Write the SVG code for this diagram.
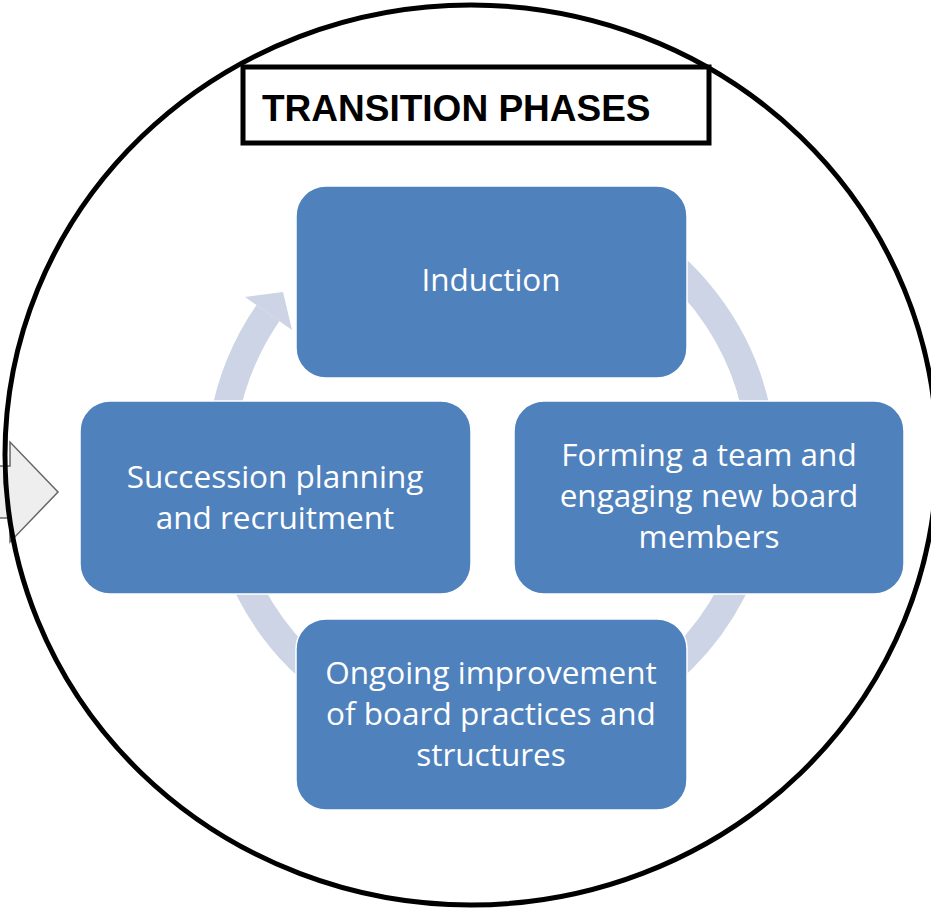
<svg xmlns="http://www.w3.org/2000/svg" width="931" height="908" viewBox="0 0 931 908">
  <style>
    .node { fill: #4F81BD; stroke: #ffffff; stroke-width: 1.5; }
    .label { fill: #ffffff; font-family: "Open Sans", "Noto Sans", sans-serif; font-size: 31.5px; text-anchor: middle; }
    .ring { fill: none; stroke: #CCD4E5; stroke-width: 28; }
    .title { font-family: "Liberation Sans", Arial, sans-serif; font-weight: bold; font-size: 37px; fill: #000000; }
  </style>

  <rect width="931" height="908" fill="#ffffff"/>

  <!-- entry arrow on the left edge -->
  <g id="entry-arrow">
    <polygon points="-5,466 10,466 10,442 58,492 10,542 10,518 -5,518" fill="#EEEEEE" stroke="#666666" stroke-width="1.5"/>
  </g>

  <!-- outer boundary ellipse -->
  <ellipse cx="471" cy="455" rx="466" ry="450" fill="none" stroke="#000000" stroke-width="5"/>

  <!-- title box -->
  <g id="title">
    <rect x="243" y="67" width="466" height="76" fill="#ffffff" stroke="#000000" stroke-width="5"/>
    <text class="title" x="262" y="121">TRANSITION PHASES</text>
  </g>

  <!-- cycle ring behind the phase boxes (centre 491,467; r 271) -->
  <g id="connectors">
    <path class="ring" d="M 224.1 420 A 271 271 0 0 1 268 313"/>
    <polygon points="245,297 292,330 283,292" fill="#CCD4E5"/>
    <path class="ring" d="M 583.7 212.3 A 271 271 0 0 1 761 443.4"/>
    <path class="ring" d="M 757.9 514.1 A 271 271 0 0 1 538.1 733.9"/>
    <path class="ring" d="M 443.9 733.9 A 271 271 0 0 1 224.1 514.1"/>
  </g>

  <g id="induction">
    <rect class="node" x="296" y="186" width="391" height="192" rx="30"/>
    <text class="label" x="491" y="291">Induction</text>
  </g>

  <g id="succession">
    <rect class="node" x="80" y="401" width="391" height="193" rx="30"/>
    <text class="label" x="275" y="488">Succession planning</text>
    <text class="label" x="275" y="529">and recruitment</text>
  </g>

  <g id="forming">
    <rect class="node" x="514" y="401" width="390" height="193" rx="30"/>
    <text class="label" x="709" y="466">Forming a team and</text>
    <text class="label" x="709" y="507">engaging new board</text>
    <text class="label" x="709" y="548">members</text>
  </g>

  <g id="ongoing">
    <rect class="node" x="296" y="619" width="391" height="191" rx="30"/>
    <text class="label" x="491" y="684">Ongoing improvement</text>
    <text class="label" x="491" y="725">of board practices and</text>
    <text class="label" x="491" y="766">structures</text>
  </g>
</svg>
